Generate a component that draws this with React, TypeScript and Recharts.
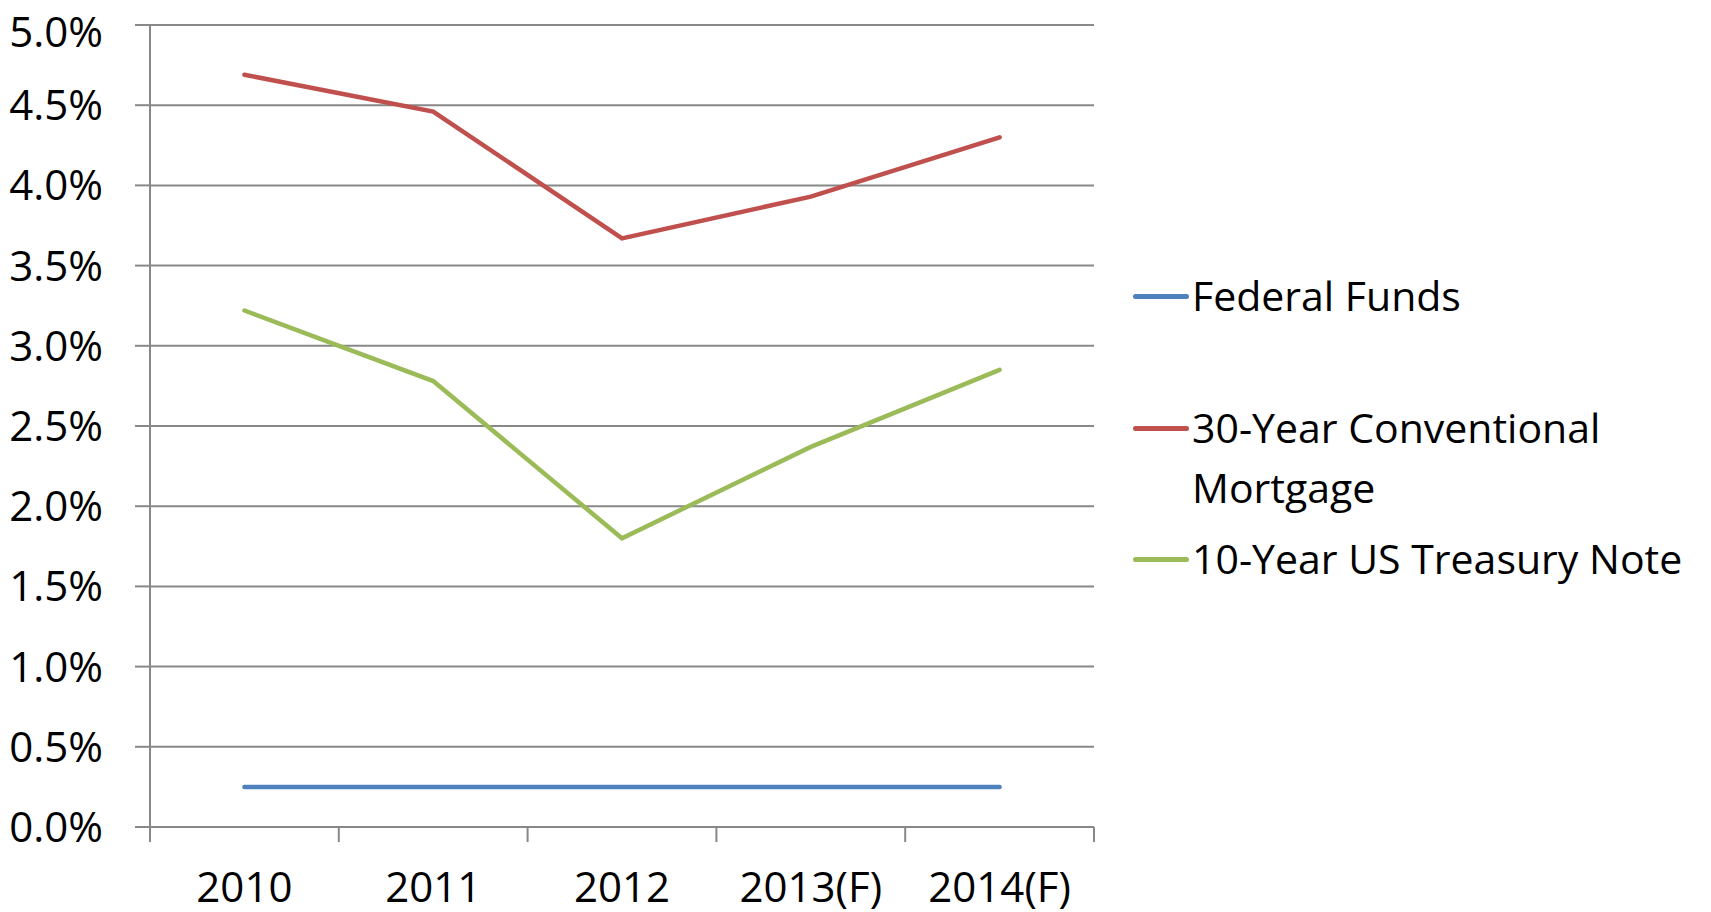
import { LineChart, Line, XAxis, YAxis, CartesianGrid } from 'recharts';

const years = ['2010', '2011', '2012', '2013(F)', '2014(F)'];
const federalFunds = [0.25, 0.25, 0.25, 0.25, 0.25];
const mortgage30 = [4.69, 4.46, 3.67, 3.93, 4.3];
const treasury10 = [3.22, 2.78, 1.8, 2.37, 2.85];
const yTicks = [0, 0.5, 1, 1.5, 2, 2.5, 3, 3.5, 4, 4.5, 5];

const series = [
  { key: 'ff', name: 'Federal Funds', values: federalFunds },
  { key: 'mort', name: '30-Year Conventional Mortgage', values: mortgage30 },
  { key: 'tsy', name: '10-Year US Treasury Note', values: treasury10 },
];

// look of each series: colour and where its legend entry sits
const seriesStyle: Record<string, { color: string; legendTop: number }> = {
  ff: { color: '#4F81BD', legendTop: 257 },
  mort: { color: '#C0504D', legendTop: 389 },
  tsy: { color: '#9BBB59', legendTop: 520 },
};

// category i sits in the middle of slot [i, i+1]
const data = years.map((year, i) => {
  const row: any = { x: i + 0.5, year };
  series.forEach((s) => {
    row[s.key] = s.values[i];
  });
  return row;
});

const edgeTicks = years.map((_, i) => i).concat([years.length]);
const centerTicks = years.map((_, i) => i + 0.5);

const FONT = '"Open Sans", sans-serif';
const GRID = '#888888';

const App = () => {
  return (
    <div style={{ position: 'relative', width: 1703, height: 904, fontFamily: FONT }}>
      <LineChart
        width={1700}
        height={904}
        data={data}
        margin={{ top: 17, right: 614, bottom: 4, left: 0 }}
        style={{ overflow: 'visible' }}
      >
        <CartesianGrid vertical={false} stroke={GRID} strokeWidth={2} />
        <YAxis
          domain={[0, 5]}
          ticks={yTicks}
          width={142}
          tickSize={15}
          tickMargin={32}
          stroke={GRID}
          strokeWidth={2}
          tickFormatter={(v: number) => v.toFixed(1) + '%'}
          tick={{ fill: '#000', fontSize: 42, fontFamily: FONT }}
        />
        {/* labels, centred in each slot */}
        <XAxis
          xAxisId="b"
          dataKey="x"
          type="number"
          domain={[0, years.length]}
          ticks={centerTicks}
          height={66}
          tickSize={0}
          tickMargin={30}
          axisLine={false}
          tickLine={false}
          tickFormatter={(v: number) => years[Math.floor(v)]}
          tick={{ fill: '#000', fontSize: 42, fontFamily: FONT }}
        />
        {/* tick marks on slot boundaries */}
        <XAxis
          xAxisId="a"
          dataKey="x"
          type="number"
          domain={[0, years.length]}
          ticks={edgeTicks}
          height={15}
          tickSize={15}
          stroke={GRID}
          strokeWidth={2}
          tickFormatter={() => ''}
        />
        {series.map((s) => (
          <Line
            key={s.key}
            xAxisId="a"
            dataKey={s.key}
            name={s.name}
            stroke={seriesStyle[s.key].color}
            strokeWidth={4.5}
            dot={false}
            strokeLinecap="round"
            isAnimationActive={false}
          />
        ))}
      </LineChart>
      {series.map((s) => (
        <div
          key={s.key}
          style={{
            position: 'absolute',
            left: 1125,
            top: seriesStyle[s.key].legendTop,
            width: 580,
            display: 'flex',
            alignItems: 'flex-start',
          }}
        >
          <div
            style={{
              flexShrink: 0,
              width: 56,
              height: 5,
              marginTop: 29,
              background: seriesStyle[s.key].color,
              borderRadius: 3,
            }}
          />
          <div style={{ marginLeft: 3, width: 515, flexShrink: 0, fontSize: 41, lineHeight: '60px', color: '#000' }}>
            {s.name}
          </div>
        </div>
      ))}
    </div>
  );
};

export default App;
